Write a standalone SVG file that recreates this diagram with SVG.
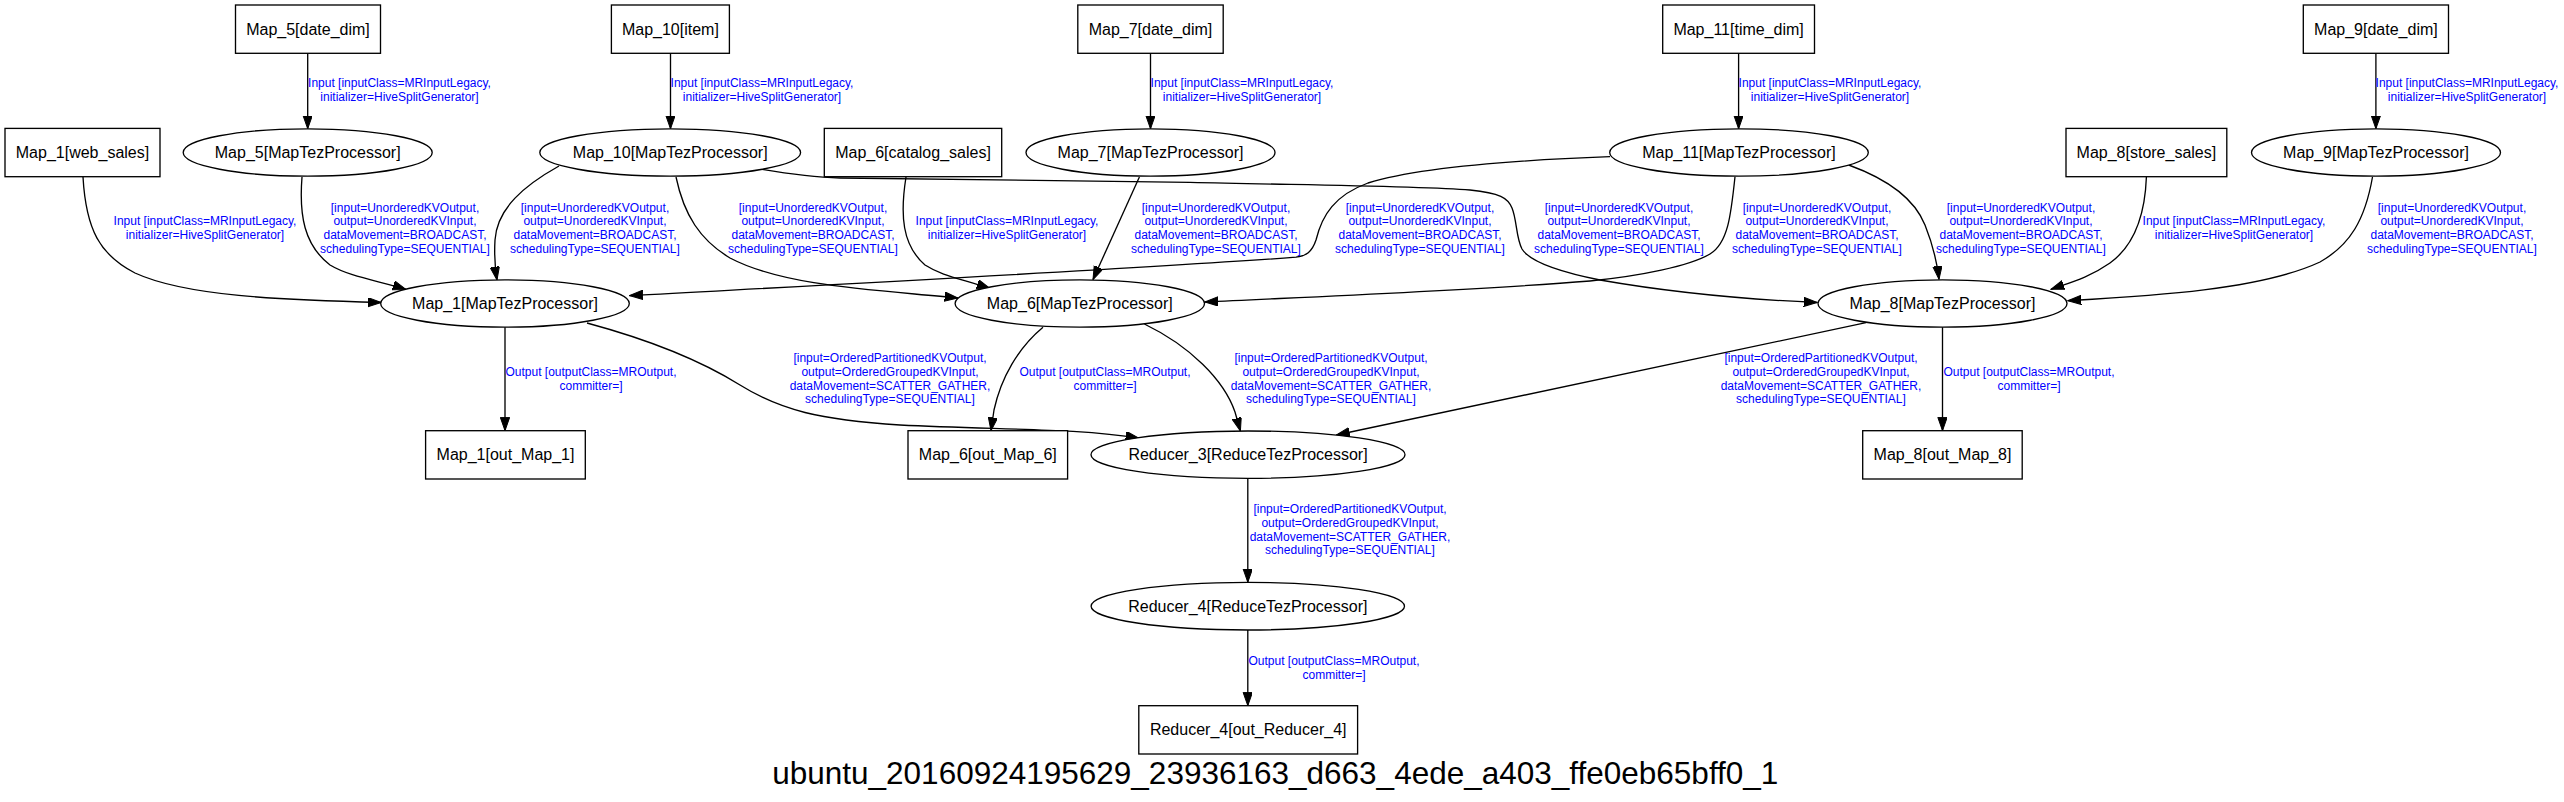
<svg xmlns="http://www.w3.org/2000/svg" width="2564" height="802" viewBox="0 0 2564 802">
<style>
.bg{fill:#fff}
.nd{fill:#fff;stroke:#000;stroke-width:1.33}
.n{font-family:"Liberation Sans",Arial,Helvetica,sans-serif;font-size:16px;text-anchor:middle;fill:#000}
.e{font-family:"Liberation Sans",Arial,Helvetica,sans-serif;font-size:12px;text-anchor:middle;fill:#0000ff}
.t{font-family:"Liberation Sans",Arial,Helvetica,sans-serif;font-size:31.5px;text-anchor:middle;fill:#000}
.c{fill:none;stroke:#000;stroke-width:1.33;marker-end:url(#arr)}
</style>
<defs>
<marker id="arr" markerUnits="userSpaceOnUse" markerWidth="14" markerHeight="10" refX="13.3" refY="4.67" orient="auto">
<path d="M0,0 L13.3,4.67 L0,9.33 z" fill="#000" stroke="#000" stroke-width="1"/>
</marker>
</defs>
<rect class="bg" x="0" y="0" width="2564" height="802"/>

<g id="connectors">
<path class="c" d="M307.7,53.3 L307.7,128.8"/>
<path class="c" d="M670.5,53.3 L670.5,128.8"/>
<path class="c" d="M1150.5,53.3 L1150.5,128.8"/>
<path class="c" d="M1738.6,53.3 L1738.6,128.8"/>
<path class="c" d="M2375.9,53.3 L2375.9,128.8"/>
<path class="c" d="M83,177 C86,230 100,255 135,273 C185,296 280,300 381,302.5"/>
<path class="c" d="M302,177 C299,215 304,245 330,265 C350,277 380,281 406,289.5"/>
<path class="c" d="M559,166 C525,185 497,208 495,240 C494,258 495,268 497,280"/>
<path class="c" d="M676,177 C684,215 700,240 730,258 C785,287 880,290 958,298"/>
<path class="c" d="M906,177 C900,215 902,245 925,265 C942,276 962,279 990,288.5"/>
<path class="c" d="M1139.4,177 L1093,279.5"/>
<path class="c" d="M760,169 C790,174 810,177 840,178 L1190,182.3 C1300,185 1420,186 1470,190 C1500,193 1508,198 1512,208 C1517,220 1516,238 1522,249 C1530,262 1560,272 1600,280 C1680,294 1760,300 1817,302.5"/>
<path class="c" d="M1610,156.7 C1520,160 1420,167 1368,183 C1335,195 1322,215 1316,240 C1312,252 1306,256 1296,257.2 C1150,268 900,281 629.5,295.6"/>
<path class="c" d="M1735,176.7 C1731,215 1728,243 1710,254 C1690,266 1640,276 1590,281 C1480,290 1330,296 1205,302"/>
<path class="c" d="M1848.7,165 C1890,180 1915,200 1925,225 C1933,245 1937,262 1939,279.3"/>
<path class="c" d="M2146.4,177 C2145,215 2135,245 2110,263 C2090,277 2072,282 2051,289.3"/>
<path class="c" d="M2372.5,177 C2365,220 2350,245 2320,262 C2260,290 2150,296 2068,300.7"/>
<path class="c" d="M505,327 L505,430.7"/>
<path class="c" d="M587,323 C650,340 700,360 740,385 C780,410 820,420 900,425 C1000,430 1080,428 1139,438.3"/>
<path class="c" d="M1043,327.3 C1018,348 1001,378 994,410 L991,430.7"/>
<path class="c" d="M1144.4,324 C1190,346 1224,380 1235,412 L1240.4,431"/>
<path class="c" d="M1866,322.7 L1336.4,435"/>
<path class="c" d="M1942.5,327 L1942.5,430.7"/>
<path class="c" d="M1247.8,478.3 L1247.8,582.3"/>
<path class="c" d="M1247.8,630 L1247.8,705.7"/>
</g>

<g id="edge-labels">
<text class="e"><tspan x="399.5" y="87">Input [inputClass=MRInputLegacy,</tspan><tspan x="399.5" y="101">initializer=HiveSplitGenerator]</tspan></text>
<text class="e"><tspan x="762" y="87">Input [inputClass=MRInputLegacy,</tspan><tspan x="762" y="101">initializer=HiveSplitGenerator]</tspan></text>
<text class="e"><tspan x="1242" y="87">Input [inputClass=MRInputLegacy,</tspan><tspan x="1242" y="101">initializer=HiveSplitGenerator]</tspan></text>
<text class="e"><tspan x="1830" y="87">Input [inputClass=MRInputLegacy,</tspan><tspan x="1830" y="101">initializer=HiveSplitGenerator]</tspan></text>
<text class="e"><tspan x="2467" y="87">Input [inputClass=MRInputLegacy,</tspan><tspan x="2467" y="101">initializer=HiveSplitGenerator]</tspan></text>

<text class="e"><tspan x="205" y="225">Input [inputClass=MRInputLegacy,</tspan><tspan x="205" y="239">initializer=HiveSplitGenerator]</tspan></text>
<text class="e"><tspan x="1007" y="225">Input [inputClass=MRInputLegacy,</tspan><tspan x="1007" y="239">initializer=HiveSplitGenerator]</tspan></text>
<text class="e"><tspan x="2234" y="225">Input [inputClass=MRInputLegacy,</tspan><tspan x="2234" y="239">initializer=HiveSplitGenerator]</tspan></text>

<text class="e"><tspan x="405" y="211.5">[input=UnorderedKVOutput,</tspan><tspan x="405" y="225.2">output=UnorderedKVInput,</tspan><tspan x="405" y="238.9">dataMovement=BROADCAST,</tspan><tspan x="405" y="252.6">schedulingType=SEQUENTIAL]</tspan></text>
<text class="e"><tspan x="595" y="211.5">[input=UnorderedKVOutput,</tspan><tspan x="595" y="225.2">output=UnorderedKVInput,</tspan><tspan x="595" y="238.9">dataMovement=BROADCAST,</tspan><tspan x="595" y="252.6">schedulingType=SEQUENTIAL]</tspan></text>
<text class="e"><tspan x="813" y="211.5">[input=UnorderedKVOutput,</tspan><tspan x="813" y="225.2">output=UnorderedKVInput,</tspan><tspan x="813" y="238.9">dataMovement=BROADCAST,</tspan><tspan x="813" y="252.6">schedulingType=SEQUENTIAL]</tspan></text>
<text class="e"><tspan x="1216" y="211.5">[input=UnorderedKVOutput,</tspan><tspan x="1216" y="225.2">output=UnorderedKVInput,</tspan><tspan x="1216" y="238.9">dataMovement=BROADCAST,</tspan><tspan x="1216" y="252.6">schedulingType=SEQUENTIAL]</tspan></text>
<text class="e"><tspan x="1420" y="211.5">[input=UnorderedKVOutput,</tspan><tspan x="1420" y="225.2">output=UnorderedKVInput,</tspan><tspan x="1420" y="238.9">dataMovement=BROADCAST,</tspan><tspan x="1420" y="252.6">schedulingType=SEQUENTIAL]</tspan></text>
<text class="e"><tspan x="1619" y="211.5">[input=UnorderedKVOutput,</tspan><tspan x="1619" y="225.2">output=UnorderedKVInput,</tspan><tspan x="1619" y="238.9">dataMovement=BROADCAST,</tspan><tspan x="1619" y="252.6">schedulingType=SEQUENTIAL]</tspan></text>
<text class="e"><tspan x="1817" y="211.5">[input=UnorderedKVOutput,</tspan><tspan x="1817" y="225.2">output=UnorderedKVInput,</tspan><tspan x="1817" y="238.9">dataMovement=BROADCAST,</tspan><tspan x="1817" y="252.6">schedulingType=SEQUENTIAL]</tspan></text>
<text class="e"><tspan x="2021" y="211.5">[input=UnorderedKVOutput,</tspan><tspan x="2021" y="225.2">output=UnorderedKVInput,</tspan><tspan x="2021" y="238.9">dataMovement=BROADCAST,</tspan><tspan x="2021" y="252.6">schedulingType=SEQUENTIAL]</tspan></text>
<text class="e"><tspan x="2452" y="211.5">[input=UnorderedKVOutput,</tspan><tspan x="2452" y="225.2">output=UnorderedKVInput,</tspan><tspan x="2452" y="238.9">dataMovement=BROADCAST,</tspan><tspan x="2452" y="252.6">schedulingType=SEQUENTIAL]</tspan></text>

<text class="e"><tspan x="890" y="362.3">[input=OrderedPartitionedKVOutput,</tspan><tspan x="890" y="376">output=OrderedGroupedKVInput,</tspan><tspan x="890" y="389.7">dataMovement=SCATTER_GATHER,</tspan><tspan x="890" y="403.4">schedulingType=SEQUENTIAL]</tspan></text>
<text class="e"><tspan x="1331" y="362.3">[input=OrderedPartitionedKVOutput,</tspan><tspan x="1331" y="376">output=OrderedGroupedKVInput,</tspan><tspan x="1331" y="389.7">dataMovement=SCATTER_GATHER,</tspan><tspan x="1331" y="403.4">schedulingType=SEQUENTIAL]</tspan></text>
<text class="e"><tspan x="1821" y="362.3">[input=OrderedPartitionedKVOutput,</tspan><tspan x="1821" y="376">output=OrderedGroupedKVInput,</tspan><tspan x="1821" y="389.7">dataMovement=SCATTER_GATHER,</tspan><tspan x="1821" y="403.4">schedulingType=SEQUENTIAL]</tspan></text>
<text class="e"><tspan x="1350" y="513.3">[input=OrderedPartitionedKVOutput,</tspan><tspan x="1350" y="527">output=OrderedGroupedKVInput,</tspan><tspan x="1350" y="540.7">dataMovement=SCATTER_GATHER,</tspan><tspan x="1350" y="554.4">schedulingType=SEQUENTIAL]</tspan></text>

<text class="e"><tspan x="591" y="376.3">Output [outputClass=MROutput,</tspan><tspan x="591" y="390.3">committer=]</tspan></text>
<text class="e"><tspan x="1105" y="376.3">Output [outputClass=MROutput,</tspan><tspan x="1105" y="390.3">committer=]</tspan></text>
<text class="e"><tspan x="2029" y="376.3">Output [outputClass=MROutput,</tspan><tspan x="2029" y="390.3">committer=]</tspan></text>
<text class="e"><tspan x="1334" y="665.3">Output [outputClass=MROutput,</tspan><tspan x="1334" y="679.3">committer=]</tspan></text>
</g>

<g id="Map_5_date_dim"><rect class="nd" x="235.5" y="5" width="145" height="48.3"/><text class="n" x="308" y="34.7">Map_5[date_dim]</text></g>
<g id="Map_10_item"><rect class="nd" x="611.4" y="5" width="118" height="48.3"/><text class="n" x="670.4" y="34.7">Map_10[item]</text></g>
<g id="Map_7_date_dim"><rect class="nd" x="1077.8" y="5" width="145.4" height="48.3"/><text class="n" x="1150.5" y="34.7">Map_7[date_dim]</text></g>
<g id="Map_11_time_dim"><rect class="nd" x="1662.7" y="5" width="151.8" height="48.3"/><text class="n" x="1738.6" y="34.7">Map_11[time_dim]</text></g>
<g id="Map_9_date_dim"><rect class="nd" x="2303.3" y="5" width="145.2" height="48.3"/><text class="n" x="2375.9" y="34.7">Map_9[date_dim]</text></g>

<g id="Map_1_web_sales"><rect class="nd" x="5" y="128.4" width="155" height="48.3"/><text class="n" x="82.5" y="158.1">Map_1[web_sales]</text></g>
<g id="Map_5"><ellipse class="nd" cx="307.7" cy="152.5" rx="124.5" ry="23.7"/><text class="n" x="307.7" y="158">Map_5[MapTezProcessor]</text></g>
<g id="Map_10"><ellipse class="nd" cx="670.2" cy="152.5" rx="130.4" ry="23.7"/><text class="n" x="670.2" y="158">Map_10[MapTezProcessor]</text></g>
<g id="Map_6_catalog_sales"><rect class="nd" x="824.3" y="128.4" width="177.4" height="48.3"/><text class="n" x="913" y="158.1">Map_6[catalog_sales]</text></g>
<g id="Map_7"><ellipse class="nd" cx="1150.5" cy="152.5" rx="124.5" ry="23.7"/><text class="n" x="1150.5" y="158">Map_7[MapTezProcessor]</text></g>
<g id="Map_11"><ellipse class="nd" cx="1739" cy="152.5" rx="129.3" ry="23.7"/><text class="n" x="1739" y="158">Map_11[MapTezProcessor]</text></g>
<g id="Map_8_store_sales"><rect class="nd" x="2066" y="128.4" width="160.8" height="48.3"/><text class="n" x="2146.4" y="158.1">Map_8[store_sales]</text></g>
<g id="Map_9"><ellipse class="nd" cx="2376" cy="152.5" rx="124.5" ry="23.7"/><text class="n" x="2376" y="158">Map_9[MapTezProcessor]</text></g>

<g id="Map_1"><ellipse class="nd" cx="505" cy="303.5" rx="124.3" ry="23.7"/><text class="n" x="505" y="309">Map_1[MapTezProcessor]</text></g>
<g id="Map_6"><ellipse class="nd" cx="1079.8" cy="303.5" rx="124.7" ry="23.7"/><text class="n" x="1079.8" y="309">Map_6[MapTezProcessor]</text></g>
<g id="Map_8"><ellipse class="nd" cx="1942.5" cy="303.5" rx="124.5" ry="23.7"/><text class="n" x="1942.5" y="309">Map_8[MapTezProcessor]</text></g>

<g id="Map_1_out_Map_1"><rect class="nd" x="425.6" y="430.7" width="159.7" height="48.3"/><text class="n" x="505.5" y="460.4">Map_1[out_Map_1]</text></g>
<g id="Map_6_out_Map_6"><rect class="nd" x="908" y="430.7" width="159.6" height="48.3"/><text class="n" x="987.8" y="460.4">Map_6[out_Map_6]</text></g>
<g id="Reducer_3"><ellipse class="nd" cx="1248" cy="454.7" rx="157" ry="23.7"/><text class="n" x="1248" y="460.2">Reducer_3[ReduceTezProcessor]</text></g>
<g id="Map_8_out_Map_8"><rect class="nd" x="1862.7" y="430.7" width="159.5" height="48.3"/><text class="n" x="1942.5" y="460.4">Map_8[out_Map_8]</text></g>

<g id="Reducer_4"><ellipse class="nd" cx="1247.8" cy="606.2" rx="156.7" ry="23.8"/><text class="n" x="1247.8" y="611.7">Reducer_4[ReduceTezProcessor]</text></g>
<g id="Reducer_4_out_Reducer_4"><rect class="nd" x="1138.8" y="705.7" width="218.8" height="48.3"/><text class="n" x="1248.2" y="735.4">Reducer_4[out_Reducer_4]</text></g>

<text class="t" x="1275.3" y="784">ubuntu_20160924195629_23936163_d663_4ede_a403_ffe0eb65bff0_1</text>
</svg>
